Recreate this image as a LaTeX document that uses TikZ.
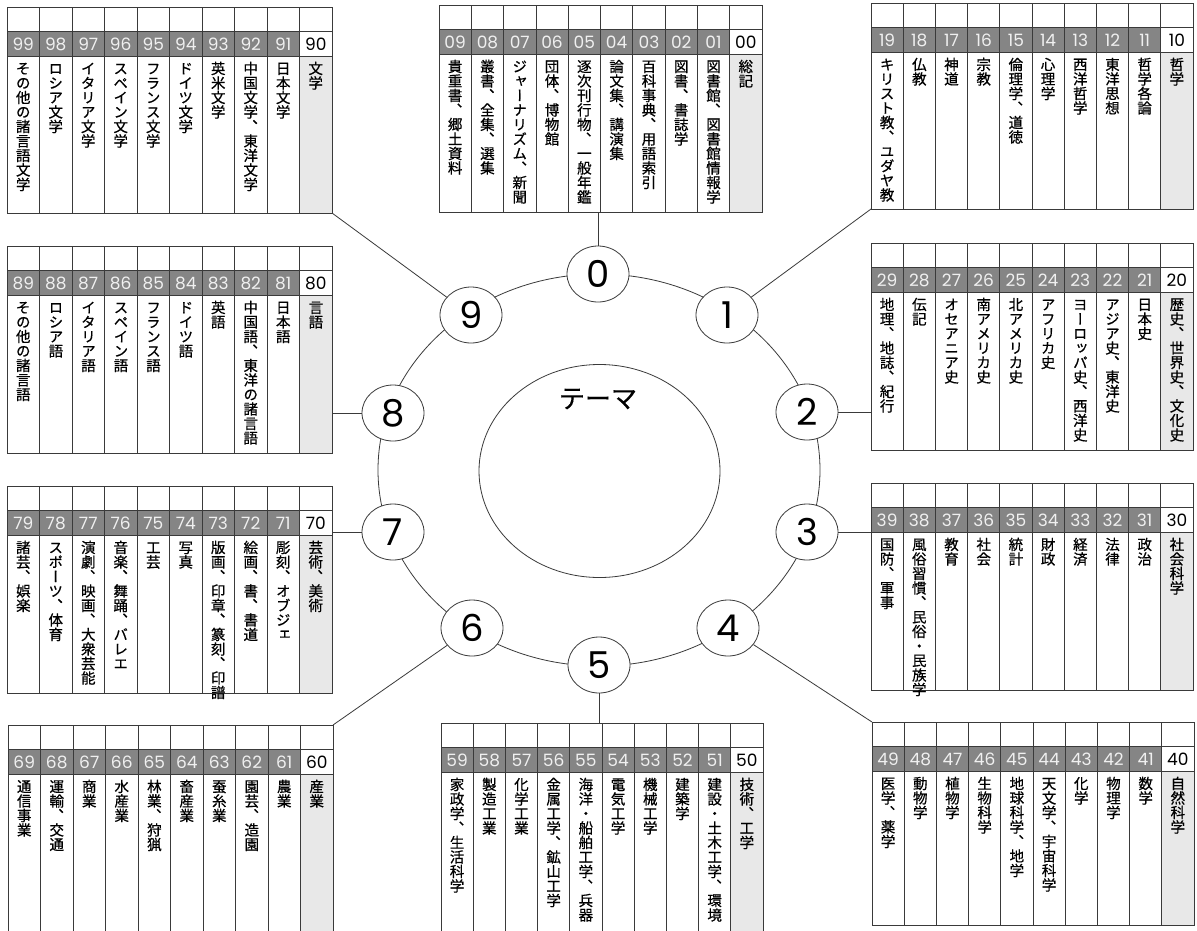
\documentclass[tikz,border=0pt]{standalone}
\usepackage{fontspec}
\usetikzlibrary{shapes.geometric}
\setmainfont{Poppins}
\newfontfamily\jpfont[FakeBold=0.5]{Noto Sans CJK JP}
\newfontfamily\jpvfont[RawFeature={vertical;+vert}, FakeBold=0.6]{Noto Sans CJK JP}
\definecolor{lineC}{HTML}{3A3A3A}
\definecolor{bandC}{HTML}{858585}
\definecolor{numC}{HTML}{F0F0F0}
\definecolor{headC}{HTML}{E8E8E8}
\tikzset{
  tabbox/.style={draw=lineC, line width=0.9pt, rectangle, inner sep=0, outer sep=0},
  gridline/.style={draw=lineC, line width=0.8pt},
  numlbl/.style={inner sep=0, text=numC, font=\fontsize{17}{17}\selectfont},
  numlblz/.style={inner sep=0, text=black, font=\fontsize{17}{17}\selectfont},
  vlbl/.style={rotate=-90, anchor=west, inner sep=0, font=\jpvfont\fontsize{14.5}{14.5}\selectfont},
  cnode/.style={ellipse, draw=lineC, line width=0.8pt, fill=white, minimum width=62pt, minimum height=56pt, inner sep=0, font=\fontsize{37}{37}\selectfont},
  conn/.style={draw=lineC, line width=0.8pt},
}
% #1 digit, #2 left x, #3 top y, #4 height, #5 width, #6 labels
\newcommand\ndctab[6]{%
  \pgfmathsetmacro\cw{#5/10}
  \pgfmathsetmacro\ya{#3+24.5}
  \pgfmathsetmacro\yb{#3+49}
  \pgfmathsetmacro\xn{#2+9*\cw}
  \pgfmathsetmacro\xr{#2+#5}
  \pgfmathsetmacro\yz{#3+#4}
  \fill[bandC] (#2,\ya) rectangle (\xn,\yb);
  \fill[headC] (\xn,\yb) rectangle (\xr,\yz);
  \node[tabbox, minimum width=#5pt, minimum height=#4pt, anchor=north west] (tab#1) at (#2,#3) {};
  \draw[gridline] (#2,\ya) -- (\xr,\ya) (#2,\yb) -- (\xr,\yb);
  \foreach \lab [count=\i] in {#6} {
    \pgfmathsetmacro\xc{#2+(\i-0.5)*\cw}
    \pgfmathsetmacro\xl{#2+\i*\cw}
    \pgfmathtruncatemacro\dd{mod(10-\i,10)}
    \ifnum\i<10
      \draw[gridline] (\xl,#3) -- (\xl,\yz);
      \node[numlbl] (n#1\dd) at (\xc,\ya+13) {#1\dd};
    \else
      \node[numlblz] (n#1\dd) at (\xc,\ya+13) {#1\dd};
    \fi
    \node[vlbl] (l#1\dd) at (\xc+5.5,\yb+5) {\lab};
  }
}
\begin{document}
\begin{tikzpicture}[x=1pt, y=-1pt]
\useasboundingbox (0,0) rectangle (1197,930);
\fill[white] (0,0) rectangle (1197,930);
\clip (0,0) rectangle (1197,930);

\ndctab{9}{7}{7}{206}{325}{その他の諸言語文学, ロシア文学, イタリア文学, スペイン文学, フランス文学, ドイツ文学, 英米文学, 中国文学、東洋文学, 日本文学, 文学}
\ndctab{0}{439}{5}{207}{323}{貴重書、郷土資料, 叢書、全集、選集, ジャーナリズム、新聞, 団体、博物館, 逐次刊行物、一般年鑑, 論文集、講演集, 百科事典、用語索引, 図書、書誌学, 図書館、図書館情報学, 総記}
\ndctab{1}{871}{3}{206}{322}{キリスト教、ユダヤ教, 仏教, 神道, 宗教, 倫理学、道徳, 心理学, 西洋哲学, 東洋思想, 哲学各論, 哲学}
\ndctab{8}{7}{246}{207}{325}{その他の諸言語, ロシア語, イタリア語, スペイン語, フランス語, ドイツ語, 英語, 中国語、東洋の諸言語, 日本語, 言語}
\ndctab{2}{871}{243}{207}{322}{地理、地誌、紀行, 伝記, オセアニア史, 南アメリカ史, 北アメリカ史, アフリカ史, ヨーロッパ史、西洋史, アジア史、東洋史, 日本史, 歴史、世界史、文化史}
\ndctab{7}{7}{486}{207}{325}{諸芸、娯楽, スポーツ、体育, 演劇、映画、大衆芸能, 音楽、舞踊、バレエ, 工芸, 写真, 版画、印章、篆刻、印譜, 絵画、書、書道, 彫刻、オブジェ, 芸術、美術}
\ndctab{3}{871}{483}{207}{322}{国防、軍事, 風俗習慣、民俗・民族学, 教育, 社会, 統計, 財政, 経済, 法律, 政治, 社会科学}
\ndctab{6}{8}{725}{220}{325}{通信事業, 運輸、交通, 商業, 水産業, 林業、狩猟, 畜産業, 蚕糸業, 園芸、造園, 農業, 産業}
\ndctab{5}{441}{723}{220}{322}{家政学、生活科学, 製造工業, 化学工業, 金属工学、鉱山工学, 海洋・船舶工学、兵器, 電気工学, 機械工学, 建築学, 建設・土木工学、環境, 技術、工学}
\ndctab{4}{872}{722}{203}{322}{医学、薬学, 動物学, 植物学, 生物科学, 地球科学、地学, 天文学、宇宙科学, 化学, 物理学, 数学, 自然科学}

% ring and theme
\node[ellipse, draw=lineC, line width=0.8pt, minimum width=442pt, minimum height=392pt, inner sep=0] (ring) at (599,470) {};
\node[ellipse, draw=lineC, line width=0.8pt, minimum width=241pt, minimum height=213pt, inner sep=0] (theme) at (599.5,471) {};
\node[inner sep=0, font=\jpfont\fontsize{26}{26}\selectfont] (themelbl) at (598,399) {テーマ};

\node[cnode] (c0) at (598,274) {0};
\node[cnode] (c1) at (727,315) {1};
\node[cnode] (c2) at (807,412) {2};
\node[cnode] (c3) at (807,532) {3};
\node[cnode] (c4) at (728,628) {4};
\node[cnode] (c5) at (599,665) {5};
\node[cnode] (c6) at (472,628) {6};
\node[cnode] (c7) at (393,532) {7};
\node[cnode] (c8) at (393,413) {8};
\node[cnode] (c9) at (471,315) {9};

\draw[conn] (c0) -- (c0 |- tab0.south);
\draw[conn] (c1) -- (tab1.south west);
\draw[conn] (c2) -- (c2 -| tab2.west);
\draw[conn] (c3) -- (c3 -| tab3.west);
\draw[conn] (c4) -- (tab4.north west);
\draw[conn] (c5) -- (c5 |- tab5.north);
\draw[conn] (c6) -- (tab6.north east);
\draw[conn] (c7) -- (c7 -| tab7.east);
\draw[conn] (c8) -- (c8 -| tab8.east);
\draw[conn] (c9) -- (tab9.south east);
\end{tikzpicture}
\end{document}
